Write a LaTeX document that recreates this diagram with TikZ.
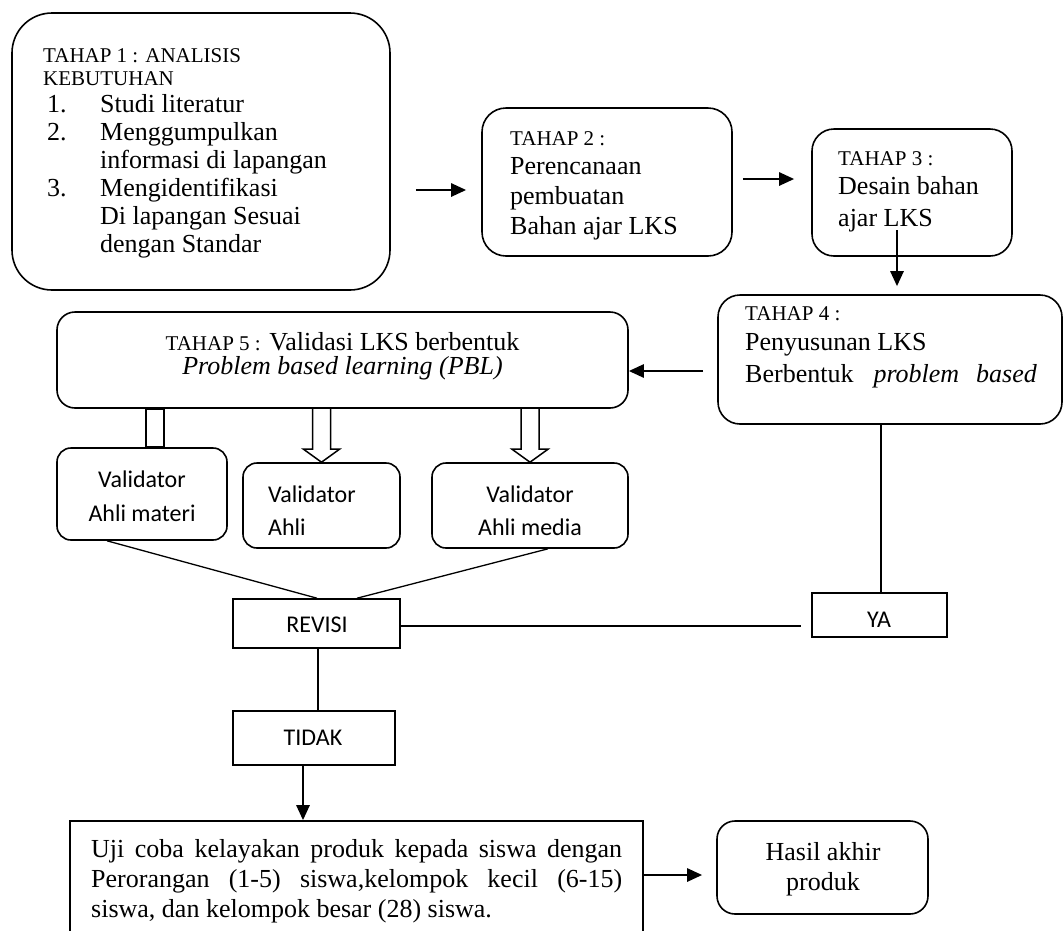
\documentclass[tikz,border=0pt]{standalone}
\usepackage{fontspec}
\setmainfont{Liberation Serif}
\newfontfamily\sansf{Carlito}
\usetikzlibrary{arrows.meta, calc}

\newcommand{\bodyfont}{\fontsize{26}{30}\selectfont}
\newcommand{\headfont}{\fontsize{21}{23}\selectfont}
\newcommand{\boxfont}{\sansf\fontsize{24}{33}\selectfont}

\tikzset{
  stage/.style={draw, line width=1.6pt, rounded corners=#1, inner sep=0pt},
  stage/.default=20pt,
  plainbox/.style={draw, line width=1.6pt, inner sep=0pt},
  body/.style={inner sep=0pt, align=left, font=\bodyfont},
  head/.style={inner sep=0pt, align=left, font=\headfont},
  tag/.style={inner sep=0pt, align=center, font=\boxfont},
  flow/.style={-{Triangle[length=15pt,width=13pt]}, line width=2.6pt},
  link/.style={line width=1.3pt},
  hollow/.style={line width=1.5pt, line join=miter}
}

% hollow block arrow from #1 down to the tip #2
\newcommand{\hollowarrow}[2]{%
  \draw[hollow] let \p1=(#1), \p2=(#2) in
    (\x1-9pt,\y1) -- (\x1-9pt,\y2+13pt) -- (\x1-18pt,\y2+13pt) -- (\x1,\y2)
    -- (\x1+18pt,\y2+13pt) -- (\x1+9pt,\y2+13pt) -- (\x1+9pt,\y1);}

\begin{document}
\begin{tikzpicture}[x=1pt, y=-1pt]
\clip (0,0) rectangle (1063,930);

% tahap (text anchored at the baseline of its last line)
\node[stage=40pt, minimum width=378pt, minimum height=277pt] (t1) at (201,151.5) {};
\node[stage=24pt, minimum width=250pt, minimum height=148pt] (t2) at (607,182) {};
\node[stage=22pt, minimum width=200pt, minimum height=127pt] (t3) at (912,192.5) {};
\node[stage=22pt, minimum width=344pt, minimum height=129pt] (t4) at (890,359.5) {};
\node[stage=18pt, minimum width=571pt, minimum height=96pt] (t5) at (342.5,360) {};

\begin{scope}
\clip (12,13) rectangle (390,257);
\node[head, anchor=base west] (h1) at (43,85) {TAHAP 1 : ANALISIS\\KEBUTUHAN};
\node[body, anchor=base west, font=\fontsize{26}{28}\selectfont] (b1) at (47,252) {%
\makebox[53pt][l]{1.}Studi literatur\\
\makebox[53pt][l]{2.}Menggumpulkan\\
\hspace*{53pt}informasi di lapangan\\
\makebox[53pt][l]{3.}Mengidentifikasi\\
\hspace*{53pt}Di lapangan Sesuai\\
\hspace*{53pt}dengan Standar};
\end{scope}

\node[head, anchor=base west] (h2) at (510,145) {TAHAP 2 :};
\node[body, anchor=base west] (b2) at (510,234) {Perencanaan\\pembuatan\\Bahan ajar LKS};
\node[head, anchor=base west] (h3) at (838,165) {TAHAP 3 :};
\node[body, anchor=base west, font=\fontsize{26}{32}\selectfont] (b3) at (838,226) {Desain bahan\\ajar LKS};
\node[head, anchor=base west] (h4) at (745,320) {TAHAP 4 :};
\node[body, anchor=base west, font=\fontsize{26}{32}\selectfont] (b4) at (745,382)
  {Penyusunan LKS\\Berbentuk\hspace{20pt}\textit{problem}\hspace{17pt}\textit{based}};
\node[body, align=center, anchor=base, font=\fontsize{26}{24}\selectfont] (b5) at (342.5,374)
  {{\headfont TAHAP 5 :} Validasi LKS berbentuk\\\textit{Problem based learning (PBL)}};

% validator
\node[stage=14pt, minimum width=170pt, minimum height=92pt] (v1) at (142,494) {};
\node[stage=14pt, minimum width=157pt, minimum height=85pt] (v2) at (321.5,505.5) {};
\node[stage=14pt, minimum width=196pt, minimum height=85pt] (v3) at (530,505.5) {};
\node[tag, anchor=base, font=\sansf\fontsize{24}{34}\selectfont] at (142,521) {Validator\\Ahli materi};
\node[tag, align=left, anchor=base west] at (268,535) {Validator\\Ahli};
\node[tag, anchor=base] at (530,535) {Validator\\Ahli media};

% keputusan
\node[plainbox, minimum width=167pt, minimum height=49pt] (rev) at (316.5,623.5) {};
\node[plainbox, minimum width=135pt, minimum height=44pt] (ya) at (879.5,615) {};
\node[plainbox, minimum width=162pt, minimum height=54pt] (tid) at (314,738) {};
\node[tag, anchor=base] at (317,632) {REVISI};
\node[tag, anchor=base] at (879,627) {YA};
\node[tag, anchor=base] at (313,745) {TIDAK};

% uji coba
\node[plainbox, minimum width=573pt, minimum height=130pt] (uji) at (356.5,886) {};
\node[body, align=justify, text width=531pt, anchor=base west] (b6) at (91,857)
  {Uji coba kelayakan produk kepada siswa dengan\linebreak
   Perorangan (1-5) siswa,kelompok kecil (6-15)\linebreak
   siswa, dan kelompok besar (28) siswa.};
\node[stage=18pt, minimum width=211pt, minimum height=93pt] (has) at (822.5,867.5) {};
\node[body, align=center, anchor=base] (b7) at (823,890) {Hasil akhir\\produk};

% panah
\draw[flow, shorten <=25pt, shorten >=15pt] (t1.east |- 0,190) -- (t2.west |- 0,190);
\draw[flow, shorten <=10pt, shorten >=17pt] (t2.east |- 0,179) -- (t3.west |- 0,179);
\coordinate (a3) at (897,230);
\draw[flow, shorten >=8pt] (a3) -- (a3 |- t4.north);
\draw[flow, shorten <=14pt] (t4.west |- 0,371) -- (t5.east |- 0,371);

\draw[hollow] let \p1=(t5.south -| 155,0), \p2=(v1.north) in
  (\x1-9pt,\y1) rectangle (\x1+9pt,\y2);
\hollowarrow{t5.south -| v2.north}{v2.north}
\hollowarrow{t5.south -| v3.north}{v3.north}

\draw[link] (v1.south -| 107,0) -- (rev.north -| 317,0);
\draw[link] (v3.south -| 548,0) -- (rev.north -| 357,0);
\draw[link] (t4.south -| 881,0) -- (ya.north -| 881,0);
\draw[link, shorten >=10pt] (rev.east |- 0,626) -- (ya.west |- 0,626);
\draw[link] (rev.south -| 318,0) -- (tid.north -| 318,0);
\draw[flow] (tid.south -| 303,0) -- (uji.north -| 303,0);
\draw[flow, shorten >=14pt] (uji.east |- 0,875) -- (has.west |- 0,875);
\end{tikzpicture}
\end{document}
